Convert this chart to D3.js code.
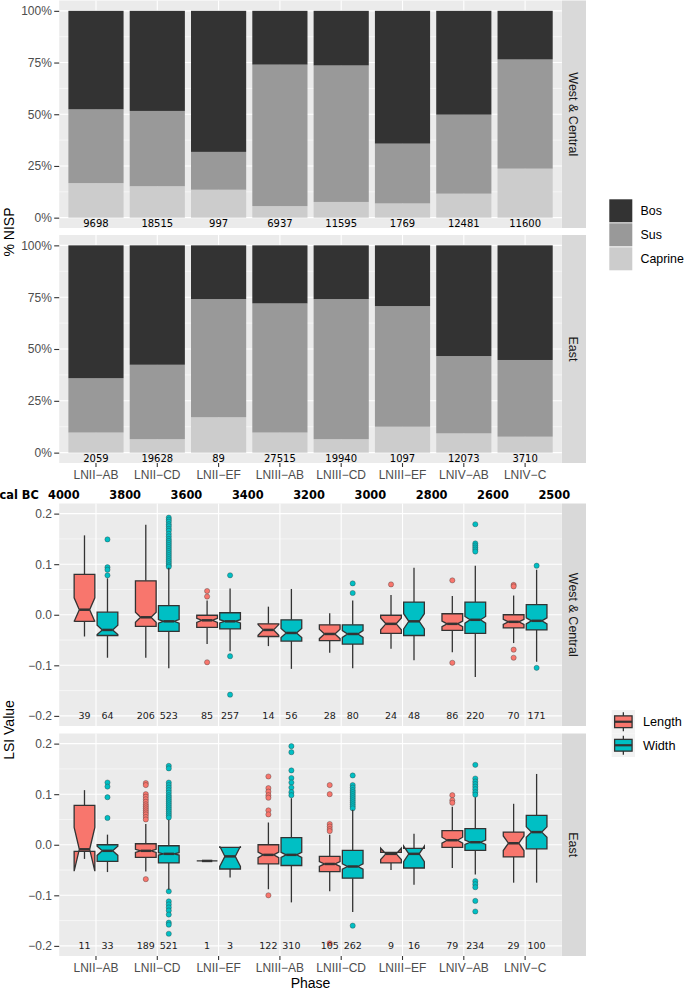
<!DOCTYPE html>
<html><head><meta charset="utf-8">
<script src="https://cdn.jsdelivr.net/npm/d3@7"></script>
<style>body{margin:0;background:#fff} svg{display:block}</style>
</head><body>
<svg id="c" width="685" height="990"></svg>
<script>
// ---------------- DATA ----------------
const phases = ["LNII-AB","LNII-CD","LNII-EF","LNIII-AB","LNIII-CD","LNIII-EF","LNIV-AB","LNIV-C"];
const regions = ["West & Central","East"];
const species = ["Bos","Sus","Caprine"];
const calBC = ["4000","3800","3600","3400","3200","3000","2800","2600","2500"];
const pctTicks = [0, 0.25, 0.5, 0.75, 1];
const lsiTicks = [-0.2, -0.1, 0, 0.1, 0.2];

// % NISP (percent of each species)
const wcBos     = [47.6, 48.4, 68.2, 26.0, 26.4, 64.2, 50.2, 23.5];
const wcSus     = [35.7, 36.4, 18.3, 68.4, 66.0, 28.9, 38.2, 52.8];
const wcCaprine = [16.7, 15.2, 13.5,  5.6,  7.6,  6.9, 11.6, 23.7];
const eBos      = [64.1, 57.6, 25.9, 28.0, 25.9, 29.3, 53.4, 55.3];
const eSus      = [26.2, 35.9, 57.0, 62.3, 67.6, 58.2, 37.3, 37.0];
const eCaprine  = [ 9.7,  6.5, 17.1,  9.7,  6.5, 12.5,  9.3,  7.7];
const wcNISP = [9698, 18515, 997, 6937, 11595, 1769, 12481, 11600];
const eNISP  = [2059, 19628, 89, 27515, 19940, 1097, 12073, 3710];

// LSI boxplot stats: [lower whisker, Q1, median, Q3, upper whisker]
const wcLengthStats = [[-0.043,-0.013,0.010,0.080,0.157],[-0.085,-0.023,-0.005,0.067,0.178],[-0.058,-0.025,-0.011,-0.001,0.028],[-0.062,-0.043,-0.030,-0.018,0.016],[-0.075,-0.051,-0.038,-0.020,0.003],[-0.067,-0.037,-0.018,-0.001,0.039],[-0.074,-0.031,-0.018,0.002,0.037],[-0.056,-0.026,-0.014,0.000,0.038]];
const wcWidthStats  = [[-0.085,-0.041,-0.030,0.005,0.072],[-0.106,-0.033,-0.013,0.018,0.093],[-0.072,-0.028,-0.013,0.004,0.052],[-0.107,-0.052,-0.036,-0.010,0.051],[-0.106,-0.058,-0.038,-0.020,0.028],[-0.090,-0.041,-0.013,0.025,0.093],[-0.123,-0.037,-0.010,0.025,0.097],[-0.093,-0.030,-0.012,0.020,0.089]];
const eLengthStats  = [[-0.028,-0.013,-0.009,0.078,0.108],[-0.053,-0.025,-0.012,0.002,0.041],[-0.032,-0.032,-0.032,-0.032,-0.032],[-0.088,-0.038,-0.020,0.000,0.044],[-0.092,-0.053,-0.038,-0.023,0.020],[-0.050,-0.036,-0.018,-0.015,-0.015],[-0.046,-0.005,0.009,0.028,0.075],[-0.075,-0.024,0.003,0.025,0.081]];
const eWidthStats   = [[-0.054,-0.033,-0.012,0.000,0.020],[-0.089,-0.036,-0.018,-0.002,0.049],[-0.065,-0.048,-0.023,-0.005,-0.005],[-0.114,-0.041,-0.020,0.014,0.092],[-0.133,-0.066,-0.043,-0.011,0.069],[-0.079,-0.046,-0.018,-0.007,0.022],[-0.059,-0.011,0.005,0.032,0.094],[-0.075,-0.008,0.025,0.058,0.140]];
const eWidthNotch   = [null, null, 0.020, null, null, null, null, null];

const wcLengthOut = [[],[],[0.047,0.036,-0.094],[],[],[0.060],[0.068,-0.095],[0.059,0.056,-0.069,-0.085]];
const wcWidthOut  = [[0.149,0.094,0.089,0.078],
  [0.192,0.188,0.184,0.179,0.175,0.170,0.166,0.160,0.155,0.150,0.146,0.142,0.138,0.134,0.130,0.126,0.122,0.118,0.114,0.110,0.106,0.102,0.098,0.095],
  [0.078,-0.082,-0.158],[],[0.062,0.043],[],[0.179,0.141,0.137,0.133,0.129,0.125],[0.097,-0.105]];
const eLengthOut  = [[],
  [0.122,0.118,0.100,0.095,0.090,0.085,0.080,0.076,0.072,0.068,0.064,0.060,0.055,0.050,-0.068],
  [],[0.135,0.112,0.105,0.098,0.093,0.068,0.060,-0.100],[0.118,0.100,0.041,0.036,0.031,0.027,-0.195],[],[0.098,0.088,0.083],[]];
const eWidthOut   = [[0.123,0.115,0.094,0.053],
  [0.156,0.151,0.123,0.118,0.113,0.108,0.103,0.098,0.094,0.090,0.086,0.082,0.078,0.074,0.070,0.066,0.062,0.058,0.054,-0.092,-0.112,-0.118,-0.124,-0.130,-0.138,-0.154,-0.158,-0.176],
  [],[0.195,0.183,0.147,0.132,0.123,0.113,0.104,0.098],
  [0.137,0.118,0.113,0.108,0.104,0.100,0.096,0.092,0.088,0.084,0.080,0.076,0.072,-0.160],
  [],[0.158,0.131,0.125,0.120,0.115,0.110,0.104,0.099,-0.072,-0.078,-0.084,-0.111,-0.132],[]];

const wcLengthN = [39,206,85,14,28,24,86,70];
const wcWidthN  = [64,523,257,56,80,48,220,171];
const eLengthN  = [11,189,1,122,105,9,79,29];
const eWidthN   = [33,521,3,310,262,16,234,100];

const measures = ["Length","Width"];
const speciesColors = {Bos:"#333333", Sus:"#999999", Caprine:"#CCCCCC"};
const measureColors = {Length:"#F8766D", Width:"#00BFC4"};

// ---------------- DRAW ----------------
const svg = d3.select("#c");
const SANS = "'Liberation Sans', Arial, sans-serif";
const DJ = "'DejaVu Sans', sans-serif";
const PX0 = 59.2, PX1 = 561.9, SX0 = 562, SX1 = 586;
const x = d3.scaleBand().domain(phases).range([PX0, PX1]).paddingInner(0).paddingOuter(0.1);
const step = x.step();
const xc = p => x(p) + x.bandwidth() / 2;
const minus = s => s.replace(/-/g, "\u2212");

function panelBg(y, y0, y1, majors, minors) {
  const g = svg.append("g");
  g.append("rect").attr("x", PX0).attr("y", y0).attr("width", PX1 - PX0).attr("height", y1 - y0).attr("fill", "#EBEBEB");
  minors.forEach(v => g.append("line").attr("x1", PX0).attr("x2", PX1).attr("y1", y(v)).attr("y2", y(v)).attr("stroke", "#fff").attr("stroke-width", 0.55));
  majors.forEach(v => g.append("line").attr("x1", PX0).attr("x2", PX1).attr("y1", y(v)).attr("y2", y(v)).attr("stroke", "#fff").attr("stroke-width", 1.1));
  phases.forEach(p => g.append("line").attr("x1", xc(p)).attr("x2", xc(p)).attr("y1", y0).attr("y2", y1).attr("stroke", "#fff").attr("stroke-width", 1.1));
  return g;
}
function strip(y0, y1, label) {
  svg.append("rect").attr("x", SX0).attr("y", y0).attr("width", SX1 - SX0).attr("height", y1 - y0).attr("fill", "#D9D9D9");
  const cy = (y0 + y1) / 2;
  svg.append("text").attr("transform", `translate(${568.6},${cy}) rotate(90)`).attr("text-anchor", "middle")
    .attr("font-family", SANS).attr("font-size", 12.5).attr("fill", "#1A1A1A").text(label);
}
function leftAxis(y, ticks, fmt) {
  const g = svg.append("g").attr("transform", `translate(${PX0},0)`)
    .call(d3.axisLeft(y).tickValues(ticks).tickFormat(fmt).tickSize(5).tickPadding(2.3));
  g.select(".domain").remove();
  g.selectAll(".tick line").attr("stroke", "#333").attr("stroke-width", 1.1);
  g.selectAll(".tick text").attr("font-family", SANS).attr("font-size", 12).attr("fill", "#4D4D4D");
}
function bottomAxis(yPos) {
  const g = svg.append("g").attr("transform", `translate(0,${yPos})`)
    .call(d3.axisBottom(x).tickSize(4).tickPadding(3.8).tickFormat(minus));
  g.select(".domain").remove();
  g.selectAll(".tick line").attr("stroke", "#333").attr("stroke-width", 1.1);
  g.selectAll(".tick text").attr("font-family", SANS).attr("font-size", 12).attr("fill", "#4D4D4D");
}

// ---- Top chart: % NISP ----
const topPanels = [
  {y0: 0.5, y1: 228, bos: wcBos, sus: wcSus, cap: wcCaprine, nisp: wcNISP, label: regions[0]},
  {y0: 235, y1: 463, bos: eBos, sus: eSus, cap: eCaprine, nisp: eNISP, label: regions[1]}
];
topPanels.forEach(P => {
  const y = d3.scaleLinear().domain([-0.05, 1.05]).range([P.y1, P.y0]);
  panelBg(y, P.y0, P.y1, pctTicks, [0.125, 0.375, 0.625, 0.875]);
  const rows = phases.map((p, i) => ({phase: p, Bos: P.bos[i] / 100, Sus: P.sus[i] / 100, Caprine: P.cap[i] / 100}));
  const stacked = d3.stack().keys(["Caprine", "Sus", "Bos"])(rows);
  stacked.forEach(layer => {
    svg.append("g").selectAll("rect").data(layer).join("rect")
      .attr("x", d => x(d.data.phase) + step * 0.05).attr("width", step * 0.9)
      .attr("y", d => y(d[1])).attr("height", d => y(d[0]) - y(d[1]))
      .attr("fill", speciesColors[layer.key]);
  });
  svg.append("g").selectAll("text").data(phases).join("text")
    .attr("x", p => xc(p)).attr("y", y(0) + 9).attr("text-anchor", "middle")
    .attr("font-family", DJ).attr("font-size", 10).attr("fill", "#000")
    .text((p, i) => P.nisp[i]);
  leftAxis(y, pctTicks, d3.format(".0%"));
  strip(P.y0, P.y1, P.label);
});
bottomAxis(463);

svg.append("text").attr("transform", "translate(14,232) rotate(-90)").attr("text-anchor", "middle")
  .attr("font-family", SANS).attr("font-size", 14).attr("fill", "#000").text("% NISP");

// top legend
species.forEach((s, i) => {
  const ky = 199.3 + i * 24;
  svg.append("rect").attr("x", 609.3).attr("y", ky).attr("width", 23).attr("height", 23).attr("fill", speciesColors[s]);
  svg.append("text").attr("x", 640.5).attr("y", ky + 11.5 + 4.5).attr("font-family", SANS).attr("font-size", 12.4).attr("fill", "#000").text(s);
});

// cal BC row
const xi = d3.scaleLinear().domain([0, phases.length - 1]).range([xc(phases[0]), xc(phases[phases.length - 1])]);
svg.append("text").attr("x", -0.5).attr("y", 499.2).attr("font-family", DJ).attr("font-weight", "bold").attr("font-size", 11.4).attr("fill", "#000").text("cal BC");
svg.append("g").selectAll("text").data(calBC).join("text")
  .attr("x", (d, k) => xi(k - 0.5) - 1.5).attr("y", 499.2).attr("text-anchor", "middle")
  .attr("font-family", DJ).attr("font-weight", "bold").attr("font-size", 11.4).attr("fill", "#000").text(d => d);

// ---- Bottom chart: LSI boxplots ----
const botPanels = [
  {y0: 503.5, y1: 726, L: [wcLengthStats, wcLengthOut, wcLengthN, null], W: [wcWidthStats, wcWidthOut, wcWidthN, null], label: regions[0]},
  {y0: 733.5, y1: 956, L: [eLengthStats, eLengthOut, eLengthN, null], W: [eWidthStats, eWidthOut, eWidthN, eWidthNotch], label: regions[1]}
];
const boxW = step * 0.3375, hw = boxW / 2, indent = boxW * 0.25;
function drawBoxes(y, data, m) {
  const [stats, outs, ns, notchOv] = data;
  const color = measureColors[measures[m]];
  const g = svg.append("g");
  phases.forEach((p, i) => {
    const [lw, q1, md, q3, uw] = stats[i];
    const n = ns[i];
    const cx = xc(p) + (m === 0 ? -1 : 1) * step * 0.1875;
    const iqr = q3 - q1;
    const nh = (notchOv && notchOv[i] != null) ? notchOv[i] : 1.58 * iqr / Math.sqrt(n);
    const nu = md + nh, nl = md - nh;
    outs[i].forEach(v => g.append("circle").attr("cx", cx).attr("cy", y(v)).attr("r", 2.6)
      .attr("fill", color).attr("stroke", "#333").attr("stroke-opacity", 0.6).attr("stroke-width", 0.6));
    g.append("line").attr("x1", cx).attr("x2", cx).attr("y1", y(q3)).attr("y2", y(uw)).attr("stroke", "#333").attr("stroke-width", 1.3);
    g.append("line").attr("x1", cx).attr("x2", cx).attr("y1", y(q1)).attr("y2", y(lw)).attr("stroke", "#333").attr("stroke-width", 1.3);
    const pts = [[cx - hw, y(q3)], [cx - hw, y(nu)], [cx - hw + indent, y(md)], [cx - hw, y(nl)], [cx - hw, y(q1)],
                 [cx + hw, y(q1)], [cx + hw, y(nl)], [cx + hw - indent, y(md)], [cx + hw, y(nu)], [cx + hw, y(q3)]];
    g.append("path").attr("d", d3.line()(pts) + "Z").attr("fill", color).attr("stroke", "#333").attr("stroke-width", 1.3).attr("stroke-linejoin", "miter");
    g.append("line").attr("x1", cx - hw + indent).attr("x2", cx + hw - indent).attr("y1", y(md)).attr("y2", y(md))
      .attr("stroke", "#333").attr("stroke-width", 2.5);
    g.append("text").attr("x", cx).attr("y", y(-0.2) + 3.5).attr("text-anchor", "middle")
      .attr("font-family", DJ).attr("font-size", 9.5).attr("fill", "#1A1A1A").text(n);
  });
}
botPanels.forEach(P => {
  const y = d3.scaleLinear().domain([-0.22, 0.22]).range([P.y1, P.y0]);
  panelBg(y, P.y0, P.y1, lsiTicks, [-0.15, -0.05, 0.05, 0.15]);
  drawBoxes(y, P.L, 0);
  drawBoxes(y, P.W, 1);
  leftAxis(y, lsiTicks, d => minus(d3.format(".1f")(d)));
  strip(P.y0, P.y1, P.label);
});
bottomAxis(956);

svg.append("text").attr("transform", "translate(14,730) rotate(-90)").attr("text-anchor", "middle")
  .attr("font-family", SANS).attr("font-size", 14).attr("fill", "#000").text("LSI Value");
svg.append("text").attr("x", (PX0 + PX1) / 2).attr("y", 988).attr("text-anchor", "middle")
  .attr("font-family", SANS).attr("font-size", 14).attr("fill", "#000").text("Phase");

// bottom legend
measures.forEach((m, i) => {
  const ky = 710 + i * 23.5, kx = 611.7, kw = 23.3, kh = 23.5;
  const g = svg.append("g");
  g.append("rect").attr("x", kx).attr("y", ky).attr("width", kw).attr("height", kh).attr("fill", "#F2F2F2");
  const cx = kx + kw / 2;
  g.append("line").attr("x1", cx).attr("x2", cx).attr("y1", ky + kh * 0.1).attr("y2", ky + kh * 0.9).attr("stroke", "#333").attr("stroke-width", 1.3);
  g.append("rect").attr("x", kx + kw * 0.125).attr("y", ky + kh * 0.25).attr("width", kw * 0.75).attr("height", kh * 0.5)
    .attr("fill", measureColors[m]).attr("stroke", "#333").attr("stroke-width", 1.3);
  g.append("line").attr("x1", kx + kw * 0.125).attr("x2", kx + kw * 0.875).attr("y1", ky + kh / 2).attr("y2", ky + kh / 2).attr("stroke", "#333").attr("stroke-width", 2.2);
  g.append("text").attr("x", 643).attr("y", ky + kh / 2 + 4.5).attr("font-family", SANS).attr("font-size", 12.7).attr("fill", "#000").text(m);
});
</script>
</body></html>
